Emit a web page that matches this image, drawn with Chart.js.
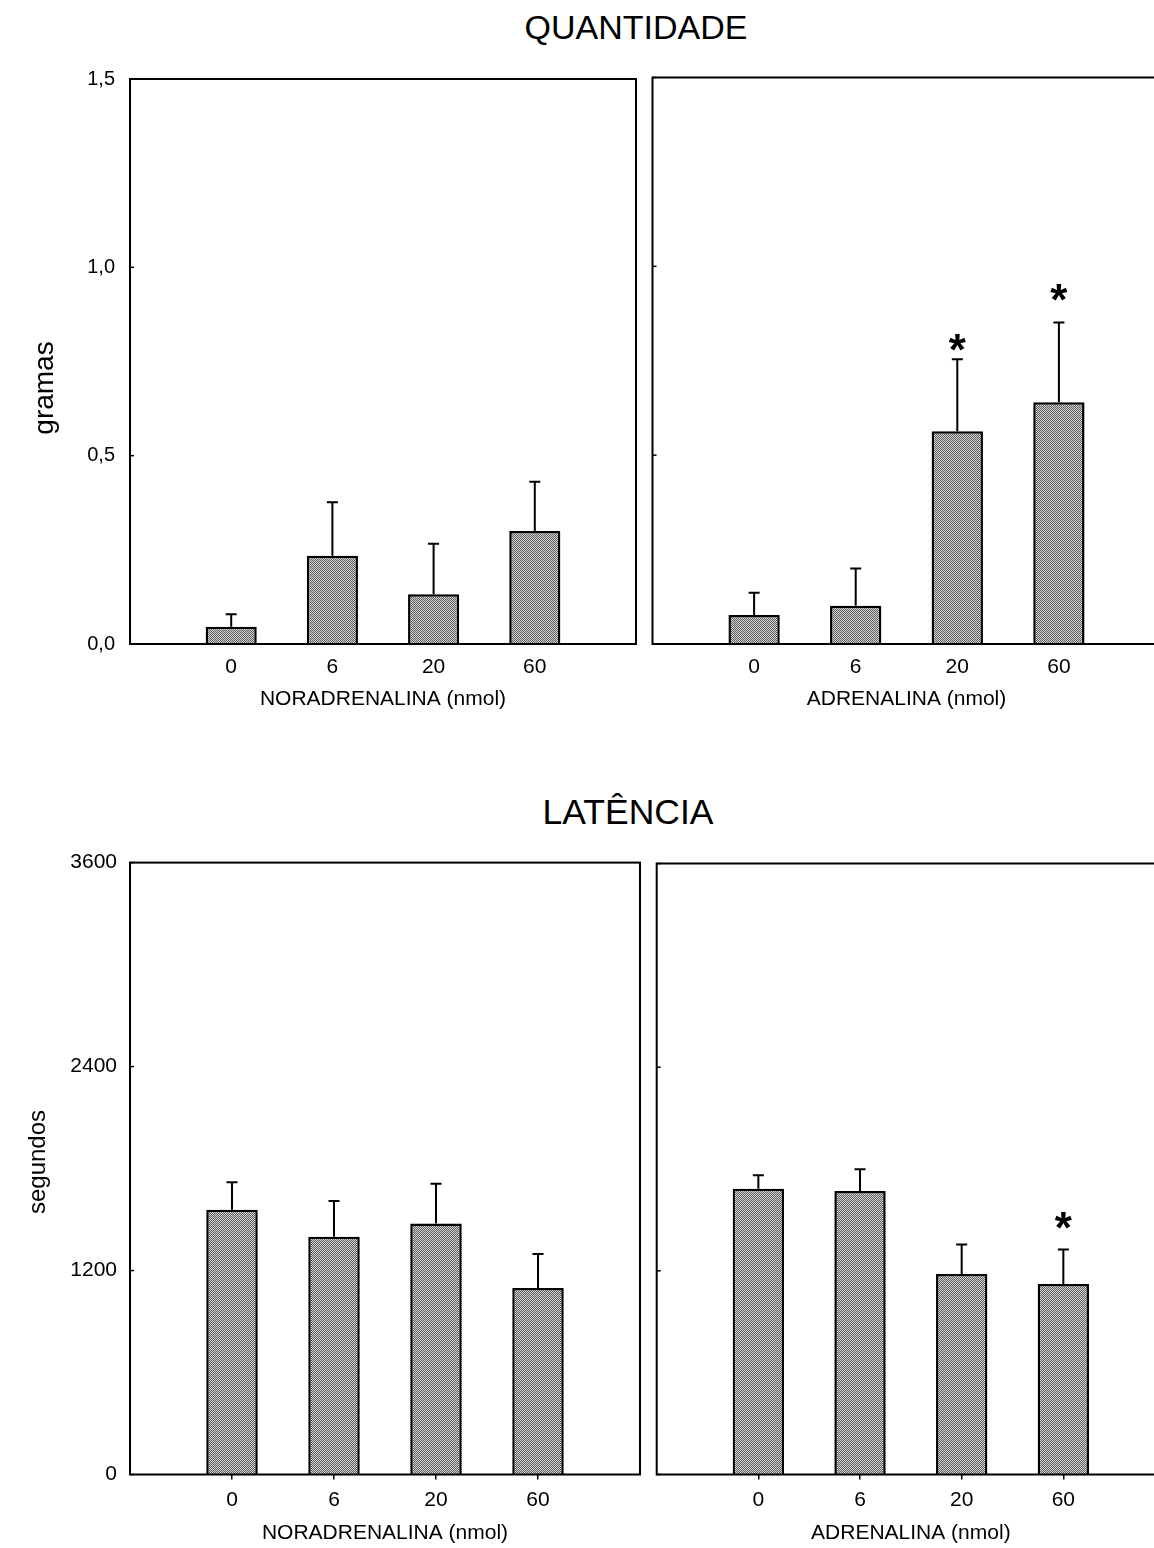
<!DOCTYPE html>
<html><head><meta charset="utf-8">
<script src="https://cdn.jsdelivr.net/npm/chart.js@4.4.1/dist/chart.umd.min.js"></script>
<style>
html,body{margin:0;padding:0;background:#fff;width:1154px;height:1548px;overflow:hidden;position:relative;font-family:"Liberation Sans",Arial,sans-serif;}
canvas{position:absolute;display:block;}
.ttl{position:absolute;white-space:nowrap;transform:translateX(-50%);line-height:1;color:#000;font-family:"Liberation Sans",Arial,sans-serif;}
</style></head><body>
<div class="ttl" style="left:636px;top:10px;font-size:34px">QUANTIDADE</div>
<div class="ttl" style="left:628px;top:795px;font-size:35.5px">LATÊNCIA</div>
<canvas id="c1" width="646" height="670" style="left:0px;top:60px"></canvas>
<canvas id="c2" width="520" height="670" style="left:646px;top:60px"></canvas>
<canvas id="c3" width="648" height="703" style="left:0px;top:845px"></canvas>
<canvas id="c4" width="525" height="703" style="left:648px;top:845px"></canvas>
<script>
// ---- data ----
const doseLabels = ['0', '6', '20', '60'];
const noraGramas = [0.046, 0.234, 0.132, 0.300];
const noraGramasSem = [0.033, 0.142, 0.134, 0.131];
const adrGramas = [0.077, 0.101, 0.563, 0.640];
const adrGramasSem = [0.059, 0.099, 0.191, 0.211];
const adrGramasStar = [null, null, 0.805, 0.938];
const noraSeg = [1558, 1399, 1476, 1097];
const noraSegSem = [161, 210, 235, 200];
const adrSeg = [1683, 1671, 1182, 1123];
const adrSegSem = [80, 128, 173, 202];
const adrSegStar = [null, null, null, 1510];
const gramasTickLabels = ['0,0', '0,5', '1,0', '1,5'];
const segTickLabels = ['0', '1200', '2400', '3600'];
const noStar = [null, null, null, null];

const FONT = '"Liberation Sans", Arial, sans-serif';

function makePattern() {
  const c = document.createElement('canvas');
  c.width = 2; c.height = 2;
  const x = c.getContext('2d');
  x.fillStyle = '#d6d6d6'; x.fillRect(0, 0, 2, 2);
  x.fillStyle = '#5a5a5a'; x.fillRect(0, 0, 1, 1); x.fillRect(1, 1, 1, 1);
  return x.createPattern(c, 'repeat');
}
const pattern = makePattern();

function panel(id, o) {
  const extras = {
    id: 'extras',
    afterDatasetsDraw(chart) {
      const ctx = chart.ctx, xs = chart.scales.x, ys = chart.scales.y, a = chart.chartArea;
      ctx.save();
      ctx.strokeStyle = '#000'; ctx.lineWidth = 2; ctx.lineCap = 'butt';
      // error bars (upper)
      o.values.forEach((v, i) => {
        const x = xs.getPixelForValue(i);
        const y0 = ys.getPixelForValue(v);
        const y1 = ys.getPixelForValue(v + o.sem[i]);
        ctx.beginPath();
        ctx.moveTo(x, y0); ctx.lineTo(x, y1);
        ctx.moveTo(x - 5.5, y1); ctx.lineTo(x + 5.5, y1);
        ctx.stroke();
      });
      // asterisks
      ctx.fillStyle = '#000';
      ctx.font = 'bold 44px ' + FONT;
      ctx.textAlign = 'center'; ctx.textBaseline = 'alphabetic';
      o.star.forEach((s, i) => {
        if (s == null) return;
        ctx.fillText('*', xs.getPixelForValue(i), ys.getPixelForValue(s) + 0.573 * 44);
      });
      // frame
      ctx.lineWidth = 2;
      ctx.strokeRect(a.left, a.top, a.right - a.left, a.bottom - a.top);
      // inward y tick marks
      ctx.lineWidth = 1.5;
      ys.ticks.forEach(t => {
        const py = ys.getPixelForValue(t.value);
        ctx.beginPath(); ctx.moveTo(a.left, py); ctx.lineTo(a.left + 4, py); ctx.stroke();
      });
      // y axis title
      if (o.yTitle) {
        ctx.save();
        ctx.translate(o.yTitle.cx, o.yTitle.cy);
        ctx.rotate(-Math.PI / 2);
        ctx.font = o.yTitle.size + 'px ' + FONT;
        ctx.textAlign = 'center'; ctx.textBaseline = 'middle';
        ctx.fillText(o.yTitle.text, 0, 0);
        ctx.restore();
      }
      ctx.restore();
    }
  };
  return new Chart(document.getElementById(id), {
    type: 'bar',
    data: {
      datasets: [{
        data: o.values.map((v, i) => ({ x: i, y: v })),
        backgroundColor: pattern,
        borderColor: '#000',
        borderWidth: 2.5,
        categoryPercentage: 1,
        barPercentage: 0.505
      }]
    },
    options: {
      responsive: false,
      animation: false,
      layout: { padding: { left: 0, top: o.padTop, right: o.padRight, bottom: 0 } },
      plugins: { legend: { display: false }, tooltip: { enabled: false }, title: { display: false } },
      scales: {
        x: {
          type: 'linear', min: -1, max: 4, offset: false,
          ticks: {
            stepSize: 1, autoSkip: false, maxRotation: 0, color: '#000',
            font: { family: FONT, size: o.xTickSize }, padding: o.xTickPad,
            callback: (v) => (doseLabels[v] !== undefined ? doseLabels[v] : '')
          },
          grid: {
            display: o.xTickMarks, drawOnChartArea: false, drawTicks: true, tickLength: 5, offset: false,
            lineWidth: 1.5,
            color: (c) => (c.tick && c.tick.value >= 0 && c.tick.value <= 3 ? '#000' : 'rgba(0,0,0,0)')
          },
          border: { display: false },
          title: {
            display: true, text: o.xTitle, color: '#000',
            font: { family: FONT, size: 21 }, padding: { top: 0, bottom: o.xTitlePad }
          },
          afterFit: (s) => { s.height = o.xHeight; }
        },
        y: {
          min: 0, max: o.yMax,
          ticks: {
            stepSize: o.yStep, display: o.showYLabels, color: '#000',
            font: { family: FONT, size: o.yTickSize }, padding: o.yTickPad,
            callback: (v, i) => o.yLabels[i]
          },
          grid: { display: false },
          border: { display: false },
          title: { display: false },
          afterFit: (s) => { s.width = o.yWidth; }
        }
      }
    },
    plugins: [extras]
  });
}

panel('c1', {
  values: noraGramas, sem: noraGramasSem, star: noStar,
  yMax: 1.5, yStep: 0.5, yLabels: gramasTickLabels, showYLabels: true, yTickPad: 7,
  yTitle: { text: 'gramas', size: 28, cx: 45, cy: 328 }, yTickSize: 20,
  xTitle: 'NORADRENALINA (nmol)', xTickMarks: false, xTickSize: 21, xTickPad: 5.5, xTitlePad: 18,
  padTop: 9, padRight: 10, yWidth: 130, xHeight: 86
});
panel('c2', {
  values: adrGramas, sem: adrGramasSem, star: adrGramasStar,
  yMax: 1.5, yStep: 0.5, yLabels: gramasTickLabels, showYLabels: false, yTickPad: 7,
  yTitle: null, yTickSize: 20,
  xTitle: 'ADRENALINA (nmol)', xTickMarks: false, xTickSize: 21, xTickPad: 5.5, xTitlePad: 18,
  padTop: 17.5, padRight: 5.5, yWidth: 6.5, xHeight: 86
});
panel('c3', {
  values: noraSeg, sem: noraSegSem, star: noStar,
  yMax: 3600, yStep: 1200, yLabels: segTickLabels, showYLabels: true, yTickPad: 5,
  yTitle: { text: 'segundos', size: 24, cx: 38, cy: 317 }, yTickSize: 21,
  xTitle: 'NORADRENALINA (nmol)', xTickMarks: true, xTickSize: 21, xTickPad: 8, xTitlePad: 2,
  padTop: 12.5, padRight: 7.3, yWidth: 130, xHeight: 73.5
});
panel('c4', {
  values: adrSeg, sem: adrSegSem, star: adrSegStar,
  yMax: 3600, yStep: 1200, yLabels: segTickLabels, showYLabels: false, yTickPad: 5,
  yTitle: null, yTickSize: 21,
  xTitle: 'ADRENALINA (nmol)', xTickMarks: true, xTickSize: 21, xTickPad: 8, xTitlePad: 2,
  padTop: 18.5, padRight: 7, yWidth: 8.7, xHeight: 73.5
});
</script>
</body></html>
